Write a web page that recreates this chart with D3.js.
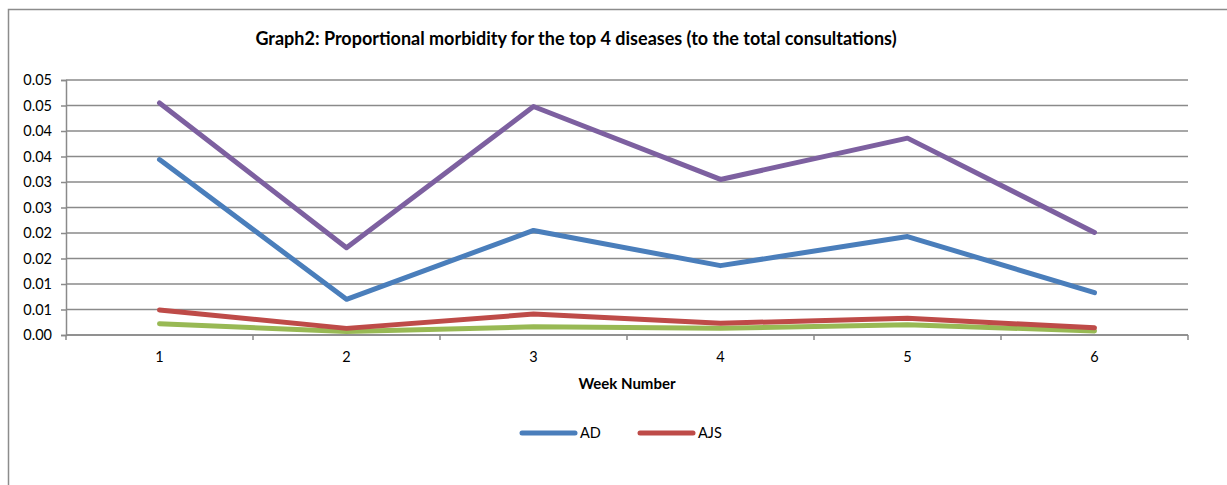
<!DOCTYPE html>
<html>
<head>
<meta charset="utf-8">
<script src="https://cdn.jsdelivr.net/npm/d3@7"></script>
<style>
  body { margin: 0; background: #fff; }
  text { font-family: "Lato", "Open Sans", sans-serif; fill: #000; }
</style>
</head>
<body>
<div id="chart"></div>
<script>

// chart data
var weeks = ["1", "2", "3", "4", "5", "6"];
var yTicks = [0, 0.005, 0.01, 0.015, 0.02, 0.025, 0.03, 0.035, 0.04, 0.045, 0.05];
var yTickLabels = ["0.00", "0.01", "0.01", "0.02", "0.02", "0.03", "0.03", "0.04", "0.04", "0.05", "0.05"];
var seriesNames = ["AD", "AJS", "S3", "S4"];
var adValues = [0.0344, 0.0070, 0.0205, 0.0136, 0.0193, 0.0083];
var ajsValues = [0.0049, 0.0013, 0.0041, 0.0023, 0.0033, 0.0014];
var s3Values = [0.0022, 0.0007, 0.0016, 0.0013, 0.0020, 0.0008];
var s4Values = [0.0455, 0.0171, 0.0448, 0.0305, 0.0386, 0.0201];
var colors = ["#4a7ebb", "#be4b48", "#98b954", "#7d60a0"];
var legendNames = ["AD", "AJS"];

var W = 1227, H = 485;
var margin = {top: 80, right: 39, bottom: 150, left: 66};
var width = W - margin.left - margin.right,
    height = H - margin.top - margin.bottom;

var svg = d3.select("#chart").append("svg")
    .attr("width", W)
    .attr("height", H);

// outer chart frame (only top + left visible)
svg.append("path")
    .attr("d", "M8.5," + (H + 5) + "V9.5H" + (W + 5))
    .attr("fill", "none")
    .attr("stroke", "#8c8c8c")
    .attr("stroke-width", 1.5);

svg.append("text")
    .attr("x", 576)
    .attr("y", 45)
    .attr("text-anchor", "middle")
    .style("font-size", "18px")
    .style("font-weight", "bold")
    .text("Graph2: Proportional morbidity for the top 4 diseases (to the total consultations)");

var g = svg.append("g")
    .attr("transform", "translate(" + margin.left + "," + margin.top + ")");

var x = d3.scaleBand().domain(weeks).range([0, width]);
var y = d3.scaleLinear().domain([0, 0.05]).range([height, 0]);

// gridlines
g.selectAll(".grid")
    .data(yTicks)
  .enter().append("line")
    .attr("x1", 0)
    .attr("x2", width)
    .attr("y1", function(d) { return y(d); })
    .attr("y2", function(d) { return y(d); })
    .attr("stroke", "#8a8a8a")
    .attr("stroke-width", 1.5);

// y axis
var ya = d3.axisLeft(y)
    .tickValues(yTicks)
    .tickSize(5)
    .tickPadding(9)
    .tickFormat(function(d, i) { return yTickLabels[i]; });
var yg = g.append("g").call(ya);
yg.select(".domain").attr("stroke", "#8a8a8a").attr("stroke-width", 1.5);
yg.selectAll(".tick line").attr("stroke", "#8a8a8a").attr("stroke-width", 1.5);
yg.selectAll("text").style("font-size", "14.5px").style("font-family", "Lato, sans-serif");

// x axis: ticks between categories
var xg = g.append("g").attr("transform", "translate(0," + height + ")");
xg.append("line")
    .attr("x1", 0).attr("x2", width)
    .attr("stroke", "#8a8a8a").attr("stroke-width", 1.5);
var bounds = weeks.map(function(w) { return x(w); }).concat([width]);
xg.selectAll(".xt")
    .data(bounds)
  .enter().append("line")
    .attr("x1", function(d) { return d; })
    .attr("x2", function(d) { return d; })
    .attr("y1", 0).attr("y2", 5)
    .attr("stroke", "#8a8a8a").attr("stroke-width", 1.5);
xg.selectAll(".xl")
    .data(weeks)
  .enter().append("text")
    .attr("x", function(d) { return x(d) + x.bandwidth() / 2; })
    .attr("y", 27)
    .attr("text-anchor", "middle")
    .style("font-size", "14.5px")
    .text(function(d) { return d; });

g.append("text")
    .attr("x", width / 2)
    .attr("y", height + 54)
    .attr("text-anchor", "middle")
    .style("font-size", "15px")
    .style("font-weight", "bold")
    .text("Week Number");

// lines
var allSeries = [adValues, ajsValues, s3Values, s4Values];
var line = d3.line()
    .x(function(d, i) { return x(weeks[i]) + x.bandwidth() / 2; })
    .y(function(d) { return y(d); });

// draw order: purple, blue, then green, red on top
[3, 0, 2, 1].forEach(function(k) {
  g.append("path")
      .datum(allSeries[k])
      .attr("fill", "none")
      .attr("stroke", colors[k])
      .attr("stroke-width", 5)
      .attr("stroke-linejoin", "round")
      .attr("stroke-linecap", "round")
      .attr("d", line);
});

// legend
var legend = svg.append("g").attr("transform", "translate(521,433)");
legendNames.forEach(function(name, i) {
  var lx = i * 118;
  legend.append("line")
      .attr("x1", lx + 1).attr("x2", lx + 54)
      .attr("y1", 0).attr("y2", 0)
      .attr("stroke", colors[i])
      .attr("stroke-width", 5)
      .attr("stroke-linecap", "round");
  legend.append("text")
      .attr("x", lx + 59)
      .attr("y", 5)
      .style("font-size", "14.5px")
      .text(name);
});

</script>
</body>
</html>
